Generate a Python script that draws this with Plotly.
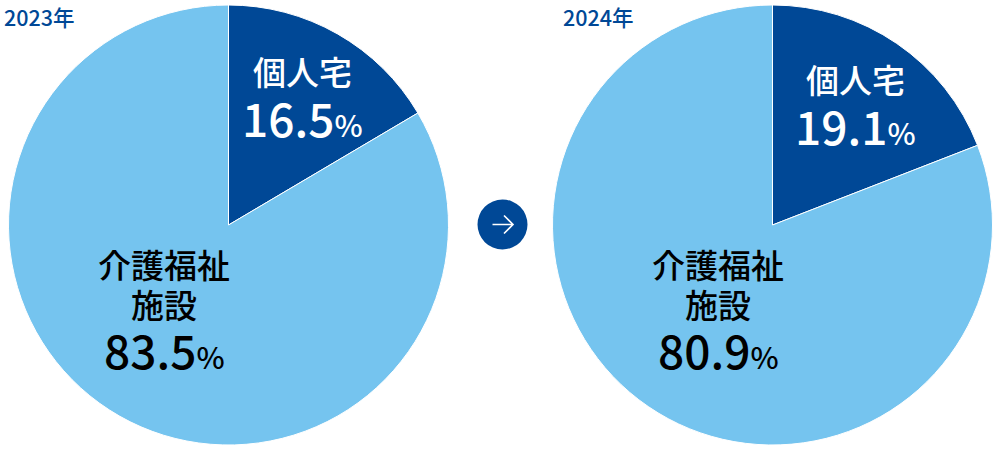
import plotly.graph_objects as go

years = ["2023年", "2024年"]
categories = ["個人宅", "介護福祉施設"]
values_2023 = [16.5, 83.5]
values_2024 = [19.1, 80.9]
label_2_lines = ["介護福祉", "施設"]

W, H = 1000, 450
DARK = "#004896"
LIGHT = "#75C4EF"
FONT = "Noto Sans CJK JP"

fig = go.Figure()
for vals, x0, x1 in [(values_2023, 8.5, 448.5), (values_2024, 552.5, 992.5)]:
    fig.add_trace(go.Pie(
        labels=categories, values=vals, sort=False, direction="clockwise", rotation=0,
        textinfo="none", hoverinfo="label+percent", showlegend=False,
        marker=dict(colors=[DARK, LIGHT], line=dict(color="white", width=1)),
        domain=dict(x=[x0 / W, x1 / W], y=[1 - 445 / H, 1 - 5 / H]),
    ))

def ann(text, x, y, color, size, weight=500):
    fig.add_annotation(text=text, x=x / W, y=1 - y / H, xref="paper", yref="paper",
                       showarrow=False, xanchor="center", yanchor="middle", align="center",
                       font=dict(family=FONT, size=size, color=color, weight=weight))

def pct(v):
    return f'{v}<span style="font-size:30px">%</span>'

ann(years[0], 39, 16.5, DARK, 21.5)
ann(years[1], 598, 16.5, DARK, 21.5)

ann(categories[0], 302, 71, "white", 33)
ann(pct(values_2023[0]), 302, 117, "white", 46)
ann(categories[0], 855, 79, "white", 33)
ann(pct(values_2024[0]), 855, 125, "white", 46)

ann(label_2_lines[0], 164, 264, "black", 33)
ann(label_2_lines[1], 164, 304, "black", 33)
ann(pct(values_2023[1]), 164, 349, "black", 46)
ann(label_2_lines[0], 718, 264, "black", 33)
ann(label_2_lines[1], 718, 304, "black", 33)
ann(pct(values_2024[1]), 718, 349, "black", 46)

def px(x):
    return x / W
def py(y):
    return 1 - y / H

fig.add_shape(type="circle", xref="paper", yref="paper", x0=px(477.5), x1=px(527.5), y0=py(249.5), y1=py(199.5),
              fillcolor=DARK, line=dict(width=0))
fig.add_shape(type="path", xref="paper", yref="paper",
              path=f"M {px(492.5)} {py(224.5)} L {px(512.5)} {py(224.5)} M {px(504)} {py(215.5)} L {px(513)} {py(224.5)} L {px(504)} {py(233.5)}",
              line=dict(color="white", width=1.6))

fig.update_layout(width=W, height=H, margin=dict(l=0, r=0, t=0, b=0),
                  paper_bgcolor="white", font=dict(family=FONT))
fig.write_html("out.html", config={"displayModeBar": False},
               post_script="document.body.style.margin='0';")
